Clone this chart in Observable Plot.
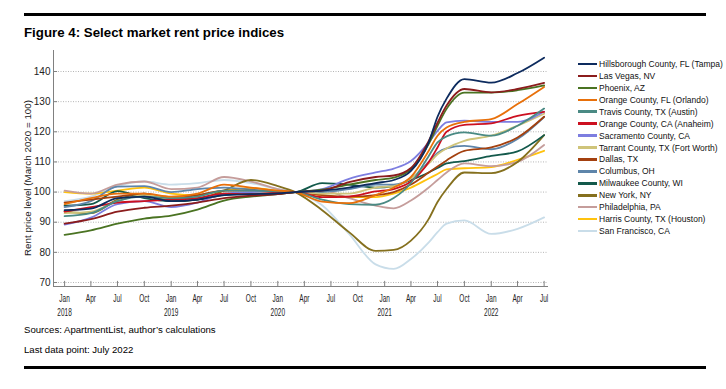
<!DOCTYPE html>
<html><head><meta charset="utf-8">
<script src="https://cdn.jsdelivr.net/npm/d3@7"></script>
<script src="https://cdn.jsdelivr.net/npm/@observablehq/plot@0.6"></script>
<style>
body{margin:0;background:#fff;font-family:"Liberation Sans",Arial,sans-serif;}
#wrap{position:relative;width:726px;height:389px;overflow:hidden;background:#fff}
.rule{position:absolute;left:24px;width:682px;height:3px;background:#000}
#title{position:absolute;left:24px;top:26px;font-weight:bold;font-size:13.3px;line-height:13px;color:#000;white-space:nowrap}
#chart{position:absolute;left:0;top:40px}
#ylab{position:absolute;left:28px;top:178px;transform:translate(-50%,-50%) rotate(-90deg);font-size:9.8px;line-height:10px;color:#222;white-space:nowrap}
#legend{position:absolute;left:578px;top:58px;font-size:8.5px;color:#111}
.row{height:11.95px;display:flex;align-items:center;white-space:nowrap}
.sw{width:19px;height:2.5px;margin-right:2px;flex:none}
.note{position:absolute;left:24px;font-size:9.6px;line-height:10px;color:#000;white-space:nowrap}
</style></head><body>
<div id="wrap">
  <div class="rule" style="top:13px"></div>
  <div id="title">Figure 4: Select market rent price indices</div>
  <div id="chart"></div>
  <div id="ylab">Rent price level (March 2020 = 100)</div>
  <div id="legend"></div>
  <div class="note" style="top:325px">Sources: ApartmentList, author’s calculations</div>
  <div class="note" style="top:345px">Last data point: July 2022</div>
  <div class="rule" style="top:366px"></div>
</div>
<script>
const dates = ["2018-01","2018-04","2018-07","2018-10","2019-01","2019-04","2019-07","2019-10","2020-01","2020-03","2020-06","2020-09","2020-12","2021-02","2021-04","2021-06","2021-07","2021-08","2021-10","2022-01","2022-04","2022-07"];

const seriesNames = ["Hillsborough County, FL (Tampa)","Las Vegas, NV","Phoenix, AZ","Orange County, FL (Orlando)","Travis County, TX (Austin)","Orange County, CA (Anaheim)","Sacramento County, CA","Tarrant County, TX (Fort Worth)","Dallas, TX","Columbus, OH","Milwaukee County, WI","New York, NY","Philadelphia, PA","Harris County, TX (Houston)","San Francisco, CA"];

const colors = ["#0d2b5e","#8b1c1c","#4a7322","#e8700a","#4a8a84","#cc1020","#7d7ee0","#cfc47a","#a3400f","#5e85aa","#13594b","#85701e","#c59d9b","#ffc20e","#c9dde9"];

const tampa      = [94,94.5,98,98.5,97,97.5,99,99.3,99.6,100,100.5,101.5,103,104,107,116.5,125,131,137.5,136.3,139.5,144.6];
const lasVegas   = [89.5,91,93.5,94.8,95.5,96.5,98,98.8,99.3,100,100.5,103.3,105,105.5,108,117,123,128.7,134.2,133.1,134.2,136.2];
const phoenix    = [85.8,87.3,89.5,91.2,92.2,94.2,97.2,98.5,99.3,100,100.8,102.5,104,104.8,107.5,116,122,127.6,133,133,133.8,135.4];
const orlando    = [96,98,99.5,99.5,98.5,99.5,102.5,101.5,100.5,100,96.8,96.3,99,101.5,105,113.7,118.7,121.4,123.3,124.2,129.2,134.9];
const austin     = [92,93,97,98.5,98,98.5,100.5,100.5,100.2,100,97.5,96,95.8,98,103,112,116.5,118.5,119.8,118.7,122,127.7];
const anaheim    = [93.5,95,96.5,97,97.5,98,99.5,99.3,99.8,100,98.3,98.5,100.2,101,103.5,110,114.8,120,122.3,122.8,125.3,126.6];
const sacramento = [89.2,91.5,96,97,95,96.5,99.5,100,100.3,100,101,104.4,106.5,107.8,110.3,116.5,120.3,123.1,123.7,123.3,123.3,126.7];
const fortWorth  = [93,93.5,97,99,98,98,99.5,99.8,100,100,99.5,99.5,101.5,102,104.5,109.5,112.5,114.5,117,118.7,122,126];
const dallas     = [96.5,97.5,98.5,99.5,98,99,100.5,100.5,100,100,99,98.5,99,100,102.5,106.5,108.5,110.5,113.7,114.8,118.1,125];
const columbus   = [95,97,101.8,102,100,101,101.5,100.8,100.3,100,100,101,102.5,102.5,104.5,110,113,114.5,115.3,114.2,117.6,124.9];
const milwaukee  = [95.5,96,100.3,98,97,97.5,99,99.5,99.8,100,103,102.5,101.5,102,104,106.5,108,109.5,110.3,112,113.5,118.9];
const newYork    = [93.5,93,97.5,99.5,97,97.5,100.5,104,102,100,94,86.7,80.5,80.8,83.9,91.1,96.7,101,106.5,106.3,110,118.9];
const philly     = [100.5,99.5,102.5,103.5,101,101.5,105,103.5,101,100,100.5,98,95.5,94.6,97.2,101.5,104,106.5,109.5,108.6,110,115.6];
const houston    = [100,99.5,100.5,101.5,99.5,99,100.5,101.3,100.5,100,98.9,98.3,98.3,99.5,101.5,104.5,106,107.5,107.9,108.3,110.7,113.7];
const sanFran    = [97,98.5,102,103.5,102.5,103,104,103,101,100,95.6,86.1,76,74.5,77.8,83.3,86.7,89.5,90.6,86.1,87.8,91.6];

const valueArrays = [tampa,lasVegas,phoenix,orlando,austin,anaheim,sacramento,fortWorth,dallas,columbus,milwaukee,newYork,philly,houston,sanFran];

const yTicks = [70,80,90,100,110,120,130,140];
const xTickMonths = ["2018-01","2018-04","2018-07","2018-10","2019-01","2019-04","2019-07","2019-10","2020-01","2020-04","2020-07","2020-10","2021-01","2021-04","2021-07","2021-10","2022-01","2022-04","2022-07"];
const monthNames = ["Jan","Feb","Mar","Apr","May","Jun","Jul","Aug","Sep","Oct","Nov","Dec"];

const xDomain = [new Date("2017-11-24"), new Date("2022-07-16")];
const yDomain = [68.67, 146.97];

const data = [];
for (let i = seriesNames.length - 1; i >= 0; i--) {
  valueArrays[i].forEach((v, j) => data.push({series: seriesNames[i], date: new Date(dates[j] + "-01"), value: v}));
}
const xTickDates = xTickMonths.map(m => new Date(m + "-01"));
const fmt = d => {
  const m = d.getUTCMonth();
  return m === 0 ? `${monthNames[m]}\n${d.getUTCFullYear()}` : monthNames[m];
};
const tickEnd = new Date(xDomain[0].getTime() + 14 * 864e5);

const chart = Plot.plot({
  width: 560, height: 290,
  marginLeft: 53, marginRight: 12, marginTop: 10, marginBottom: 44,
  style: {fontFamily: '"Liberation Sans", Arial, sans-serif', fontSize: "10px", color: "#222", background: "transparent"},
  x: {type: "utc", domain: xDomain},
  y: {domain: yDomain},
  color: {domain: seriesNames, range: colors},
  marks: [
    Plot.gridY(yTicks, {stroke: "#b5b5b5", strokeOpacity: 1, strokeDasharray: "1,1.5"}),
    Plot.lineY(data, {x: "date", y: "value", z: "series", stroke: "series", strokeWidth: 1.8, curve: "monotone-x"}),
    Plot.ruleX([xDomain[0]], {stroke: "#808080"}),
    Plot.ruleY([yDomain[0]], {stroke: "#808080"}),
    Plot.ruleY(yTicks, {x1: xDomain[0], x2: tickEnd, stroke: "#808080"}),
    Plot.ruleX(xTickDates, {y1: yDomain[0], y2: yDomain[0] + 1.7, stroke: "#808080"}),
    Plot.axisY(yTicks, {tickSize: 0, tickPadding: 3, label: null, fontSize: 10}),
    Plot.axisX(xTickDates, {tickSize: 0, tickPadding: 6, tickFormat: fmt, label: null, fontSize: 10, lineHeight: 1.4})
  ]
});
document.getElementById("chart").appendChild(chart);

chart.querySelectorAll('g[aria-label="x-axis tick label"] text').forEach(el => {
  const t = el.getAttribute("transform") || "";
  const x = +el.getAttribute("x") || 0;
  el.setAttribute("transform", `${t} translate(${x},0) scale(0.65,1) translate(${-x},0)`);
});

const legend = document.getElementById("legend");
seriesNames.forEach((s, i) => {
  const row = document.createElement("div");
  row.className = "row";
  const sw = document.createElement("span");
  sw.className = "sw";
  sw.style.background = colors[i];
  const tx = document.createElement("span");
  tx.textContent = s;
  row.appendChild(sw); row.appendChild(tx);
  legend.appendChild(row);
});
</script>
</body></html>
